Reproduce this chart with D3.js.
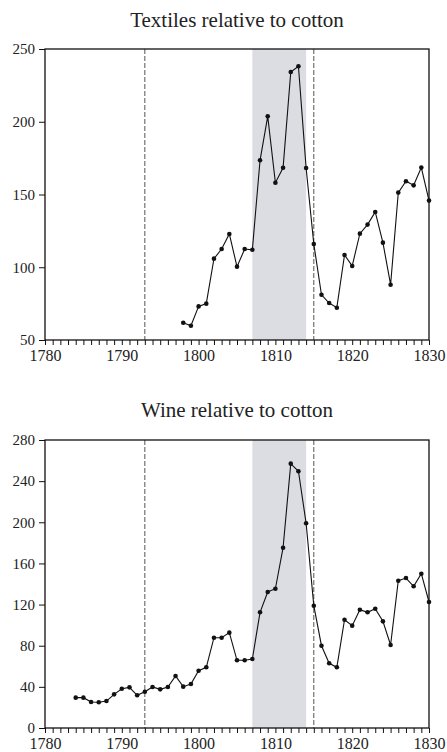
<!DOCTYPE html>
<html><head><meta charset="utf-8">
<script src="https://cdn.jsdelivr.net/npm/d3@7"></script>
<style>body{margin:0;background:#fff}svg{display:block}</style>
</head><body>
<script>
const textileYears = d3.range(1798, 1831);
const textileValues = [61.9,59.8,73.1,75,105.9,112.5,122.9,100.4,112.5,112,173.5,203.7,158.1,168.4,234.2,238.1,168.2,116,81.1,75.4,72.2,108.4,100.9,123.1,129.3,138,116.9,88,151.3,159.1,156.3,168.5,145.8];
const wineYears = d3.range(1784, 1831);
const wineValues = [29.5,29.5,25.3,25,26.2,32.7,38.2,39.5,31.8,35.3,39.9,37.6,39.9,50.6,40.2,42.8,55.7,59,87.8,87.8,92.7,65.8,65.8,67.1,112.5,132.2,135.4,175.3,257,249.6,199,118.9,80,62.9,59,105.3,99.5,115,112.5,116,103.7,80.7,143.2,145.8,137.8,150,122.5];
const xTicks = [1780,1790,1800,1810,1820,1830];
const textileTicks = [50,100,150,200,250];
const wineTicks = [0,40,80,120,160,200,240,280];
const titles = ["Textiles relative to cotton","Wine relative to cotton"];
const warYears = [1807,1814];
const dashYears = [1793,1815];

const W=447,H=752;
const svg=d3.select("body").append("svg").attr("width",W).attr("height",H);
const font="'Liberation Serif','Times New Roman',serif";

function panel(top,bottom,yDomain,yTicks,years,vals,title,titleY){
  const x=d3.scaleLinear().domain([1780,1830]).range([45,429]);
  const y=d3.scaleLinear().domain(yDomain).range([bottom,top]);
  const g=svg.append("g");
  g.append("rect").attr("x",x(warYears[0])).attr("y",top).attr("width",x(warYears[1])-x(warYears[0])).attr("height",bottom-top).attr("fill","#dcdde2");
  dashYears.forEach(d=>g.append("line").attr("x1",x(d)).attr("x2",x(d)).attr("y1",top).attr("y2",bottom).attr("stroke","#555").attr("stroke-width",1).attr("stroke-dasharray","5,2"));
  g.append("rect").attr("x",45).attr("y",top).attr("width",384).attr("height",bottom-top).attr("fill","none").attr("stroke","#111").attr("stroke-width",1.3);
  const xa=g.append("g").attr("transform",`translate(0,${bottom})`).call(d3.axisBottom(x).tickValues(d3.range(1780,1831)).tickSize(5).tickFormat(d=>xTicks.includes(d)?d:""));
  xa.select(".domain").remove();
  xa.selectAll("line").attr("stroke","#111");
  xa.selectAll("text").attr("font-family",font).attr("font-size",16).attr("fill","#222").attr("dy","0.95em").attr("y",6);
  const ya=g.append("g").attr("transform",`translate(45,0)`).call(d3.axisLeft(y).tickValues(yTicks).tickSize(6).tickPadding(4));
  ya.select(".domain").remove();
  ya.selectAll("line").attr("stroke","#111");
  ya.selectAll("text").attr("font-family",font).attr("font-size",15).attr("fill","#222");
  const line=d3.line().x((d,i)=>x(years[i])).y(d=>y(d));
  g.append("path").datum(vals).attr("d",line).attr("fill","none").attr("stroke","#111").attr("stroke-width",1.1);
  g.selectAll("circle").data(vals).join("circle").attr("cx",(d,i)=>x(years[i])).attr("cy",d=>y(d)).attr("r",2.3).attr("fill","#111");
  g.append("text").attr("x",237).attr("y",titleY).attr("text-anchor","middle").attr("font-family",font).attr("font-size",21).attr("fill","#222").text(title);
}
panel(49,340,[50,250],textileTicks,textileYears,textileValues,titles[0],27);
panel(440,728,[0,280],wineTicks,wineYears,wineValues,titles[1],417);
</script>
</body></html>
